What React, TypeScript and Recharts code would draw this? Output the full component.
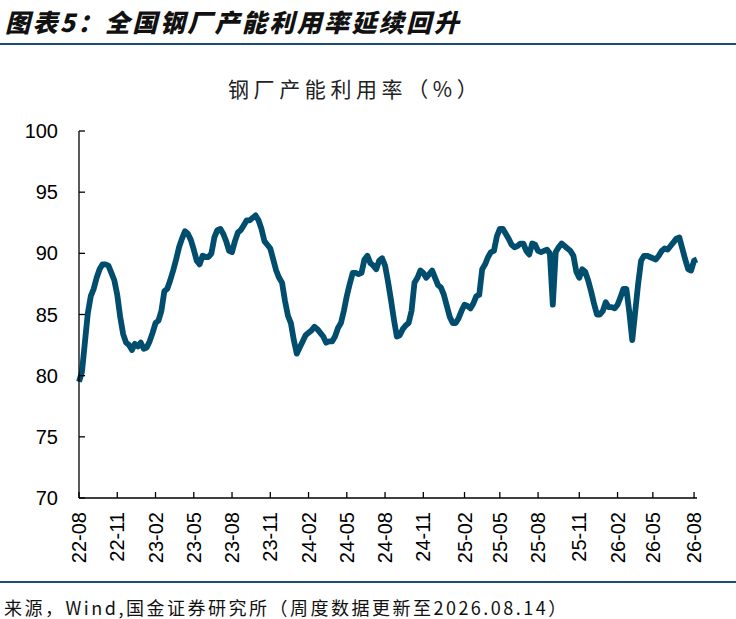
import { LineChart, Line, XAxis, YAxis } from "recharts";

// weekly readings, first week = Friday 2022-08-05
const startDate = "2022-08-05";

const util2022 = [
  79.5, 80.3, 82.7, 85.1, 86.5, 87.1, 88.0, 88.7, 89.1, 89.1, 89.0, 88.4, 87.8, 86.6, 84.8, 83.4, 82.7, 82.5, 82.1, 82.6,
  82.4, 82.7,
];
const util2023 = [
  82.2, 82.3, 82.8, 83.5, 84.3, 84.5, 85.3, 86.9, 87.1, 87.8, 88.6, 89.5, 90.5, 91.2, 91.8, 91.6, 91.1, 90.3, 89.4, 89.1,
  89.8, 89.7, 89.7, 90.0, 91.3, 91.9, 92.0, 91.6, 91.0, 90.2, 90.1, 91.0, 91.7, 91.9, 92.3, 92.7, 92.7, 92.9, 93.1, 92.7,
  92.0, 91.0, 90.7, 90.4, 89.5, 88.6, 88.0, 87.6, 86.1, 84.9, 84.3, 82.9,
];
const util2024 = [
  81.8, 82.3, 82.8, 83.3, 83.5, 83.7, 84.0, 83.8, 83.5, 83.2, 82.7, 82.8, 82.8, 83.2, 83.9, 84.3, 85.3, 86.5, 87.5, 88.4,
  88.4, 88.3, 88.4, 89.5, 89.8, 89.2, 89.0, 88.7, 89.4, 89.6, 89.0, 87.7, 86.2, 84.6, 83.2, 83.3, 83.8, 84.1, 84.3, 85.3,
  87.6, 88.0, 88.6, 88.4, 88.0, 88.3, 88.6, 88.0, 87.4, 87.2, 86.6, 85.7,
];
const util2025 = [
  84.8, 84.3, 84.3, 84.7, 85.3, 85.8, 85.7, 85.5, 85.9, 86.5, 86.6, 88.7, 89.1, 89.7, 90.1, 90.2, 91.4, 92.0, 92.0, 91.6,
  91.2, 90.7, 90.5, 90.6, 90.8, 90.8, 90.2, 89.9, 90.8, 90.7, 90.2, 90.1, 90.2, 90.3, 90.0, 85.8, 90.1, 90.5, 90.8, 90.6,
  90.4, 90.2, 89.8, 88.5, 88.0, 88.7, 88.5, 87.8, 86.9, 85.9, 85.0, 85.0,
];
const util2026 = [
  85.3, 86.0, 85.6, 85.6, 85.5, 85.8, 86.4, 87.1, 87.1, 85.2, 82.9, 85.2, 87.5, 89.4, 89.8, 89.8, 89.7, 89.6, 89.5, 89.8,
  90.2, 90.4, 90.3, 90.6, 90.9, 91.2, 91.3, 90.4, 89.5, 88.7, 88.6, 89.4, 89.5,
];

const yTicks = [70, 75, 80, 85, 90, 95, 100];
const xTickLabels = [
  "22-08", "22-11", "23-02", "23-05", "23-08", "23-11", "24-02", "24-05", "24-08",
  "24-11", "25-02", "25-05", "25-08", "25-11", "26-02", "26-05", "26-08",
];

const values = [...util2022, ...util2023, ...util2024, ...util2025, ...util2026];
const data = values.map((v, i) => {
  const d = new Date(Date.parse(startDate) + i * 7 * 86400000);
  return { i, date: d.toISOString().slice(2, 10), v };
});
const xTicks = xTickLabels.map((l) => data.findIndex((d) => d.date.startsWith(l)));

const tickFont = "'Liberation Sans', Arial, sans-serif";
const cjkFont = "'Noto Sans CJK SC', sans-serif";
const ruleColor = "#1b4f72";

function MonthTick({ x, y, payload }: any) {
  const label = data[payload.value]?.date.slice(0, 5);
  return (
    <text
      x={x}
      y={y}
      transform={`rotate(-90 ${x} ${y})`}
      textAnchor="end"
      dominantBaseline="central"
      fontSize={20}
      fontFamily={tickFont}
      fill="#000"
    >
      {label}
    </text>
  );
}

export default function App() {
  return (
    <div style={{ position: "absolute", left: 0, top: 0, width: 736, height: 619, background: "#fff", overflow: "hidden" }}>
      <div
        style={{
          position: "absolute",
          left: 5,
          top: 6,
          fontFamily: cjkFont,
          fontSize: 25,
          lineHeight: "30px",
          fontWeight: 900,
          fontStyle: "italic",
          letterSpacing: 2.4,
          color: "#111",
          whiteSpace: "nowrap",
        }}
      >
        图表5：全国钢厂产能利用率延续回升
      </div>
      <div style={{ position: "absolute", left: 0, top: 43, width: 736, height: 1.5, background: ruleColor }} />
      <div
        style={{
          position: "absolute",
          left: 228,
          top: 75,
          fontFamily: cjkFont,
          fontSize: 21,
          lineHeight: "26px",
          letterSpacing: 4.6,
          color: "#222",
          whiteSpace: "nowrap",
        }}
      >
        钢厂产能利用率（%）
      </div>
      <div style={{ position: "absolute", left: 0, top: 0 }}>
        <LineChart width={736} height={619} data={data} margin={{ top: 131, right: 39, bottom: 41, left: 0 }}>
          <XAxis
            type="number"
            dataKey="i"
            domain={[0, values.length - 1]}
            ticks={xTicks}
            interval={0}
            height={80}
            tickSize={-6}
            tickMargin={20}
            axisLine={{ stroke: "#000", strokeWidth: 1.3 }}
            tickLine={{ stroke: "#000", strokeWidth: 1.3 }}
            tick={<MonthTick />}
          />
          <YAxis
            type="number"
            domain={[70, 100]}
            ticks={yTicks}
            interval={0}
            width={79}
            tickSize={-6}
            tickMargin={27}
            axisLine={{ stroke: "#000", strokeWidth: 1.3 }}
            tickLine={{ stroke: "#000", strokeWidth: 1.3 }}
            tick={{ fontSize: 20, fontFamily: tickFont, fill: "#000" }}
          />
          <Line
            type="linear"
            dataKey="v"
            stroke="#004d6e"
            strokeWidth={5.8}
            strokeLinejoin="round"
            dot={false}
            isAnimationActive={false}
          />
        </LineChart>
      </div>
      <div style={{ position: "absolute", left: 0, top: 581, width: 736, height: 1.5, background: ruleColor }} />
      <div
        style={{
          position: "absolute",
          left: 4,
          top: 596,
          fontFamily: cjkFont,
          fontSize: 18,
          lineHeight: "22px",
          letterSpacing: 2.5,
          color: "#111",
          whiteSpace: "nowrap",
        }}
      >
        来源，Wind,国金证券研究所（周度数据更新至2026.08.14）
      </div>
    </div>
  );
}
